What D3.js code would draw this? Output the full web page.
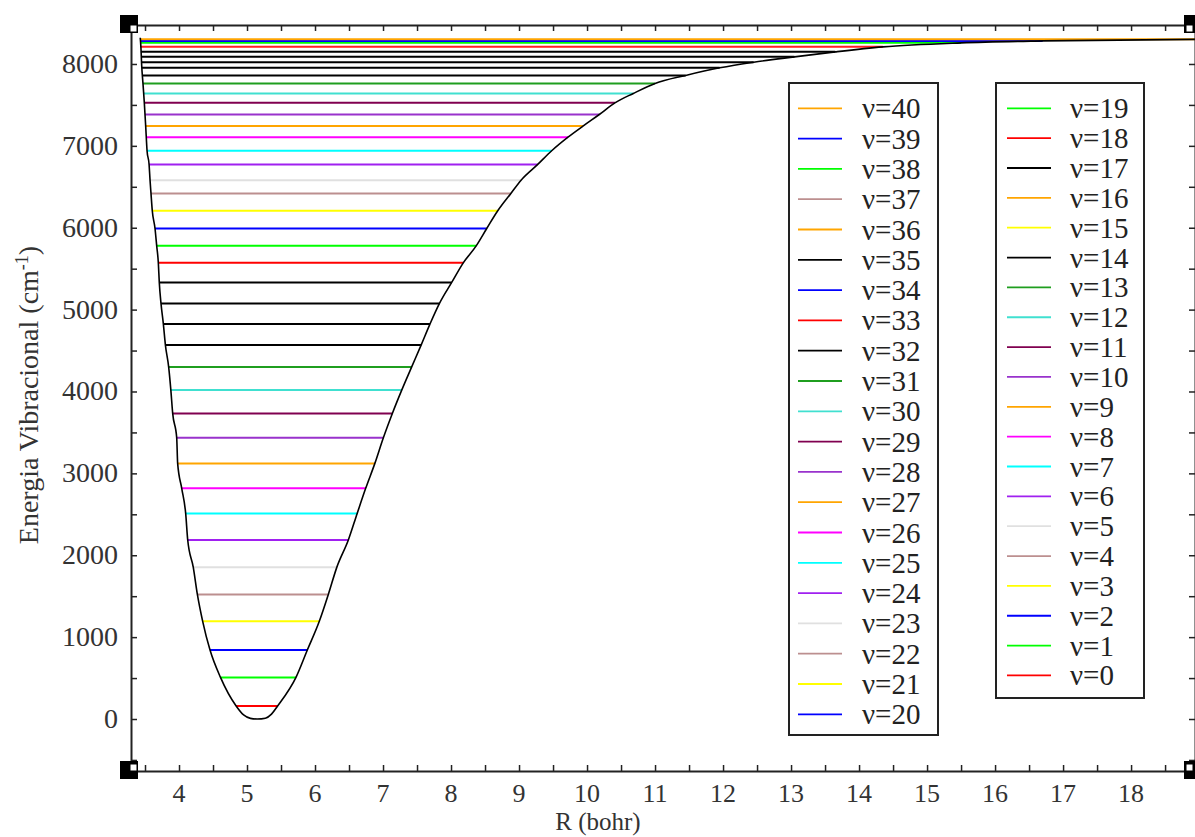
<!DOCTYPE html>
<html><head><meta charset="utf-8">
<script src="https://cdn.jsdelivr.net/npm/d3@7"></script>
<style>
html,body{margin:0;padding:0;background:#fff;}
svg{display:block;}
svg text{font-family:"Liberation Serif","DejaVu Serif","Times New Roman",Times,serif;}
</style></head>
<body><svg id="c" width="1195" height="837"></svg>
<script>
// ---- data ----
const levels = d3.range(0, 41); // v = 0..40
const levelEnergy = [159,508,842,1193,1522,1852,2186,2511,2817,3122,3435,3732,4017,4298,4567,4823,5076,5332,5571,5779,5991,6207,6419,6581,6773,6940,7106,7241,7383,7525,7640,7762,7860,7953,8022,8087,8148,8209,8258,8282,8303];
const rLeft = [4.84,4.61,4.456,4.348,4.27,4.21,4.128,4.098,4.04,3.98,3.966,3.907,3.88,3.848,3.80,3.77,3.735,3.71,3.696,3.672,3.647,3.607,3.588,3.574,3.56,3.53,3.52,3.51,3.50,3.49,3.48,3.47,3.46,3.455,3.45,3.445,3.44,3.435,3.43,3.43,3.43];
const rRight = [5.45,5.72,5.887,6.063,6.196,6.32,6.49,6.62,6.745,6.88,7.005,7.137,7.275,7.42,7.56,7.69,7.83,8.01,8.18,8.37,8.525,8.687,8.88,9.03,9.275,9.48,9.72,9.94,10.18,10.41,10.68,11.0,11.45,11.95,12.45,13.05,13.65,14.35,15.5,16.7,18.94];
const legendColors = ["#ff0000","#00ff00","#0000ff","#ffff00","#bc8f8f","#e0e0e0","#a020f0","#00ffff","#ff00ff","#ffa500",
  "#9932cc","#800050","#40e0d0","#1f9e1f","#000000","#ffff00","#ffa500","#000000","#ff0000","#00ff00",
  "#0000ff","#ffff00","#bc8f8f","#e0e0e0","#a020f0","#00ffff","#ff00ff","#ffa500","#9932cc","#800050",
  "#40e0d0","#1f9e1f","#000000","#ff0000","#0000ff","#000000","#ffa500","#bc8f8f","#00ff00","#0000ff","#ffa500"];
const plotColors = legendColors.map((c,i)=> [15,16,33,34,36].includes(i) ? "#000000" : (i===37 ? "#ff2020" : c));
// potential curve (R in bohr, E in cm-1)
const curveR = [3.43,3.44,3.45,3.47,3.49,3.51,3.53,3.56,3.574,3.588,3.607,3.647,3.672,3.696,3.71,3.735,3.77,3.80,3.848,3.88,3.907,3.966,3.98,4.04,4.098,4.128,4.21,4.27,4.348,4.456,4.61,4.84,4.95,5.05,5.15,5.27,5.36,5.45,5.72,5.887,6.063,6.196,6.32,6.49,6.62,6.745,6.88,7.005,7.137,7.275,7.42,7.56,7.69,7.83,8.01,8.18,8.37,8.525,8.687,8.88,9.03,9.275,9.48,9.72,9.94,10.18,10.41,10.68,11.0,11.45,11.95,12.45,13.05,13.65,14.35,15.5,16.7,18.94];
const curveE = [8320,8200,8000,7762,7525,7241,6940,6773,6581,6419,6207,5991,5779,5571,5332,5076,4823,4567,4298,4017,3732,3435,3122,2817,2511,2186,1852,1522,1193,842,508,159,50,8,0,10,60,159,508,842,1193,1522,1852,2186,2511,2817,3122,3435,3732,4017,4298,4567,4823,5076,5332,5571,5779,5991,6207,6419,6581,6773,6940,7106,7241,7383,7525,7640,7762,7860,7953,8022,8087,8148,8209,8258,8282,8300];
const xTicks = [4,5,6,7,8,9,10,11,12,13,14,15,16,17,18];
const yTicks = [0,1000,2000,3000,4000,5000,6000,7000,8000];
const legend1 = d3.range(40, 19, -1);
const legend2 = d3.range(19, -1, -1);

// ---- layout ----
const SERIF = '"Liberation Serif","DejaVu Serif","Times New Roman",Times,serif';
const svg = d3.select("#c");
const L = 131, R = 1195, T = 25, B = 771;
const x = d3.scaleLinear().domain([3.294, 18.94]).range([L, R]);
const y = d3.scaleLinear().domain([-635, 8476]).range([B, T]);

svg.append("defs").append("clipPath").attr("id","clip")
  .append("rect").attr("x",L).attr("y",T).attr("width",R-L).attr("height",B-T);
const plot = svg.append("g").attr("clip-path","url(#clip)");

// levels
plot.selectAll("line.lev").data(levels).join("line").attr("class","lev")
  .attr("x1", v=>x(rLeft[v])).attr("x2", v=>x(rRight[v]))
  .attr("y1", v=>y(levelEnergy[v])).attr("y2", v=>y(levelEnergy[v]))
  .attr("stroke", v=>plotColors[v]).attr("stroke-width", 2);

// potential curve
const pts = curveR.map((r,i)=>[r, curveE[i]]);
plot.append("path").datum(pts)
  .attr("d", d3.line().x(d=>x(d[0])).y(d=>y(d[1])).curve(d3.curveMonotoneX))
  .attr("fill","none").attr("stroke","#000").attr("stroke-width",1.6);

// axes
const axCol = "#222";
const minorX = d3.range(3.5, 19, 0.5);
const minorY = d3.range(-500, 8500, 500);
const gB = svg.append("g").attr("transform",`translate(0,${B})`)
  .call(d3.axisBottom(x).tickValues(minorX).tickSize(-6).tickFormat(""));
const gT = svg.append("g").attr("transform",`translate(0,${T})`)
  .call(d3.axisTop(x).tickValues(minorX).tickSize(-6).tickFormat(""));
const gL = svg.append("g").attr("transform",`translate(${L},0)`)
  .call(d3.axisLeft(y).tickValues(minorY).tickSize(-6).tickFormat(""));
const gR = svg.append("g").attr("transform",`translate(${R},0)`)
  .call(d3.axisRight(y).tickValues(minorY).tickSize(-6).tickFormat(""));
[gB,gT,gL,gR].forEach(g=>{
  g.select(".domain").attr("stroke",axCol).attr("stroke-width",2);
  g.selectAll(".tick line").attr("stroke",axCol).attr("stroke-width",1.5);
});

// tick labels
svg.append("g").selectAll("text").data(xTicks).join("text")
  .attr("x", d=>x(d)).attr("y", 802).attr("text-anchor","middle")
  .attr("font-family",SERIF).attr("font-size",26).attr("fill","#333").text(d=>d);
svg.append("g").selectAll("text").data(yTicks).join("text")
  .attr("x", 118).attr("y", d=>y(d)+9).attr("text-anchor","end")
  .attr("font-family",SERIF).attr("font-size",28).attr("fill","#333").text(d=>d);

// axis titles
svg.append("text").attr("x", 598).attr("y", 830).attr("text-anchor","middle")
  .attr("font-family",SERIF).attr("font-size",25).attr("fill","#333").text("R (bohr)");
const yt = svg.append("text").attr("transform","translate(38,395) rotate(-90)")
  .attr("text-anchor","middle").attr("font-family",SERIF).attr("font-size",28).attr("fill","#333");
yt.append("tspan").text("Energia Vibracional (cm");
yt.append("tspan").attr("dy",-10).attr("font-size",18).text("-1");
yt.append("tspan").attr("dy",10).text(")");

// corner handles
[[L,T],[L,B],[R,T],[R,B]].forEach(([cx,cy])=>{
  svg.append("rect").attr("x",cx-11).attr("y",cy-10).attr("width",18).attr("height",18).attr("fill","#000");
  const sx = cx < 600 ? cx-1 : cx-9, sy = cy < 400 ? cy : cy-7;
  svg.append("rect").attr("x",sx).attr("y",sy).attr("width",7).attr("height",7)
    .attr("fill","#fff").attr("stroke","#000").attr("stroke-width",1);
});

// legends
function drawLegend(items, bx, by, bw, bh, y0, step, lx1, lx2, tx){
  const g = svg.append("g");
  g.append("rect").attr("x",bx).attr("y",by).attr("width",bw).attr("height",bh)
    .attr("fill","#fff").attr("stroke","#222").attr("stroke-width",2);
  const ly = d3.scaleLinear().domain([0,1]).range([y0, y0+step]);
  const rows = g.selectAll("g.row").data(items).join("g").attr("class","row");
  rows.append("line").attr("x1",lx1).attr("x2",lx2)
    .attr("y1",(d,i)=>ly(i)).attr("y2",(d,i)=>ly(i))
    .attr("stroke",d=>legendColors[d]).attr("stroke-width",1.8);
  rows.append("text").attr("x",tx).attr("y",(d,i)=>ly(i)+10)
    .attr("font-family",SERIF).attr("font-size",29).attr("fill","#222").text(d=>"ν="+d);
}
drawLegend(legend1, 789, 83, 149, 652, 108.3, 30.3, 798, 842, 862);
drawLegend(legend2, 996, 83, 148, 615, 108.3, 29.85, 1007, 1051, 1070);
</script></body></html>
